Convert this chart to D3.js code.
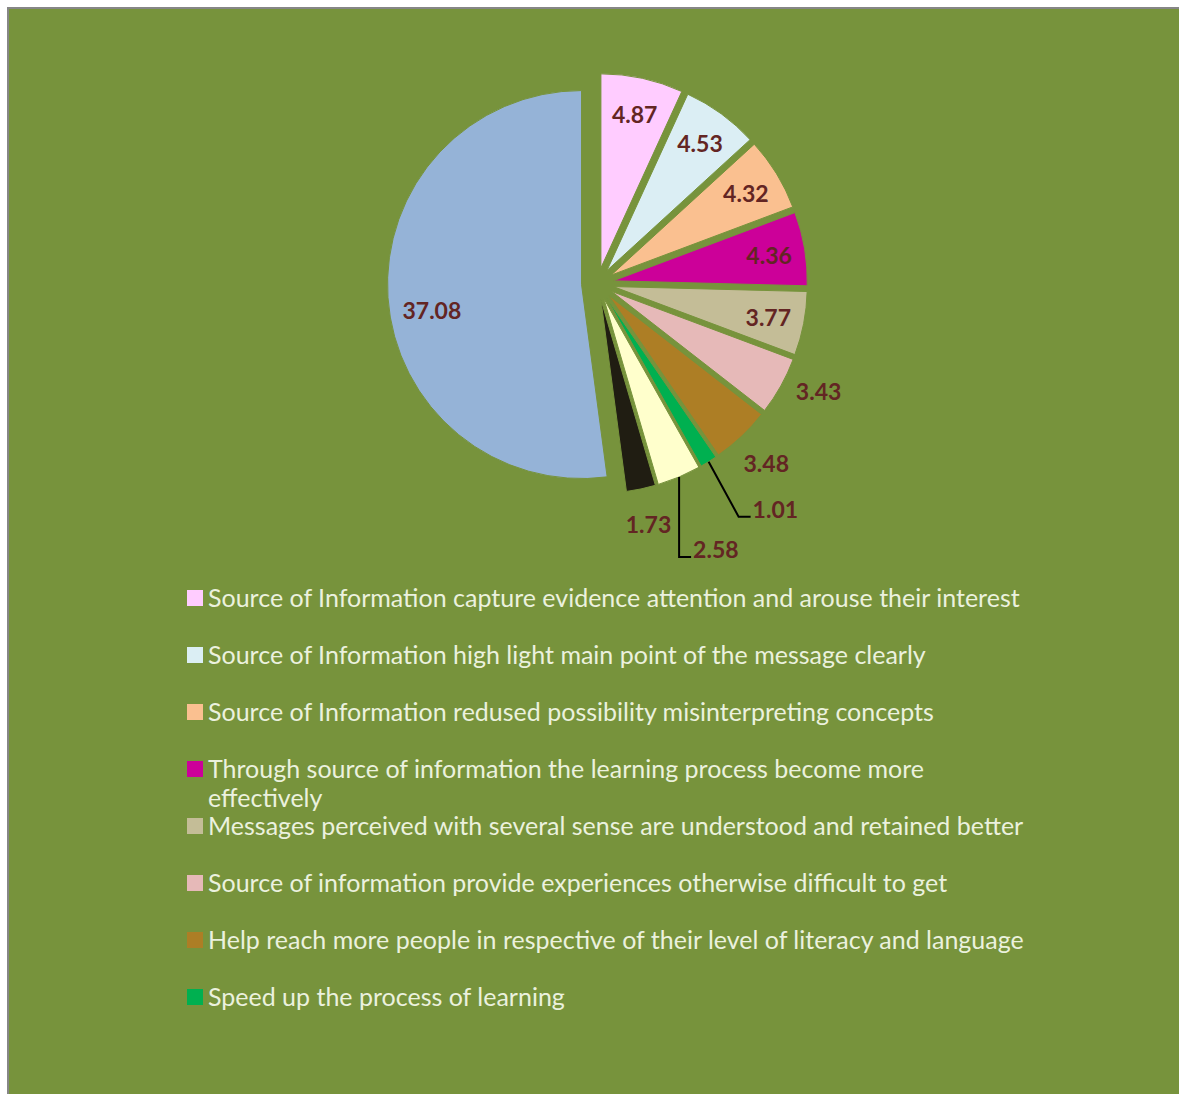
<!DOCTYPE html>
<html>
<head>
<meta charset="utf-8">
<script src="https://cdn.jsdelivr.net/npm/d3@7"></script>
<style>
  html, body { margin: 0; padding: 0; background: #fff; }
  svg { display: block; }
</style>
</head>
<body>
<div id="chart"></div>
<script>
// values clockwise from 12 o'clock
var values = [4.87, 4.53, 4.32, 4.36, 3.77, 3.43, 3.48, 1.01, 2.58, 1.73, 37.08];
var colors = ["#FFCCFF", "#DBEEF4", "#FAC090", "#CC0099", "#C4BD97", "#E6B9B8",
              "#AD7E25", "#00B050", "#FFFFCC", "#201D12", "#95B3D7"];
// legend only shows the first eight entries
var legendLabels = [
    "Source of Information capture evidence attention and arouse their interest",
    "Source of Information high light main point of the message clearly",
    "Source of Information redused possibility misinterpreting concepts",
    ["Through source of information the learning process become more", "effectively"],
    "Messages perceived with several sense are understood and retained better",
    "Source of information provide experiences otherwise difficult to get",
    "Help reach more people in respective of their level of literacy and language",
    "Speed up the process of learning"
];
// how each data label is placed: in = inside, out = outside, lead = with leader line
var labelMode = ["in", "in", "in", "in", "in", "out", "out", "lead", "lead", "out", "in"];

var W = 1179, H = 1094;
var bg = "#77933C";

var svg = d3.select("#chart").append("svg")
    .attr("width", W)
    .attr("height", H);

svg.append("rect")
    .attr("x", 8).attr("y", 8)
    .attr("width", W + 10).attr("height", H + 10)
    .attr("fill", bg)
    .attr("stroke", "#868686")
    .attr("stroke-width", 2);

var cx = 597.5, cy = 283.5, r = 194, explode = 16;

var pie = d3.pie().sort(null).value(function (d) { return d; });
var arcs = pie(values);
var arc = d3.arc().innerRadius(0).outerRadius(r);

// offset of each slice along its mid angle
function shift(d, dist) {
    var a = (d.startAngle + d.endAngle) / 2;
    return [Math.sin(a) * dist, -Math.cos(a) * dist];
}

var g = svg.append("g").attr("transform", "translate(" + cx + "," + cy + ")");

g.selectAll("path.slice")
    .data(arcs)
    .enter().append("path")
    .attr("class", "slice")
    .attr("transform", function (d) {
        var s = shift(d, explode);
        return "translate(" + s[0] + "," + s[1] + ")";
    })
    .attr("d", arc)
    .attr("fill", function (d, i) { return colors[i]; })
    .attr("stroke", bg)
    .attr("stroke-width", 1);

var labelColor = "#632523";
var labelFont = "Lato, 'Liberation Sans', sans-serif";

arcs.forEach(function (d, i) {
    var a = (d.startAngle + d.endAngle) / 2;
    var s = shift(d, explode);
    var txt = d3.format(".2f")(values[i]);
    var mode = labelMode[i];
    var x, y, anchor = "middle";
    if (mode === "in") {
        var rr = i === values.length - 1 ? 150 : 158;
        x = s[0] + Math.sin(a) * rr;
        y = s[1] - Math.cos(a) * rr;
        if (i === values.length - 1) y += 16;
    } else if (mode === "out") {
        var ao = i === 5 ? a - 0.06 : a;
        x = s[0] + Math.sin(ao) * 230;
        y = s[1] - Math.cos(ao) * 230;
    } else {
        // leader line from the slice edge
        var px = s[0] + Math.sin(a) * r, py = s[1] - Math.cos(a) * r;
        var elbow = i === 7 ? [px + 30, py + 55] : [px, py + 80];
        var end = [elbow[0] + 12, elbow[1]];
        g.append("polyline")
            .attr("points", [[px, py], elbow, end].map(function (p) { return p.join(","); }).join(" "))
            .attr("fill", "none")
            .attr("stroke", "#000")
            .attr("stroke-width", 2);
        x = end[0] + 2;
        y = end[1] - 8;
        anchor = "start";
    }
    g.append("text")
        .attr("x", x)
        .attr("y", y)
        .attr("text-anchor", anchor)
        .attr("dominant-baseline", "central")
        .attr("font-family", labelFont)
        .attr("font-weight", "bold")
        .attr("font-size", 23)
        .attr("fill", labelColor)
        .text(txt);
});

// legend
var legend = svg.append("g").attr("transform", "translate(187,590)");
var rowH = 57;
legendLabels.forEach(function (lab, i) {
    var row = legend.append("g").attr("transform", "translate(0," + (i * rowH) + ")");
    row.append("rect")
        .attr("x", 0).attr("y", 0)
        .attr("width", 16).attr("height", 16)
        .attr("fill", colors[i]);
    var lines = Array.isArray(lab) ? lab : [lab];
    var t = row.append("text")
        .attr("font-family", "Lato, 'Open Sans', sans-serif")
        .attr("font-size", 25)
        .attr("fill", "#EBF1DE");
    lines.forEach(function (ln, j) {
        t.append("tspan")
            .attr("x", 21)
            .attr("y", 17 + j * 29)
            .text(ln);
    });
});
</script>
</body>
</html>
